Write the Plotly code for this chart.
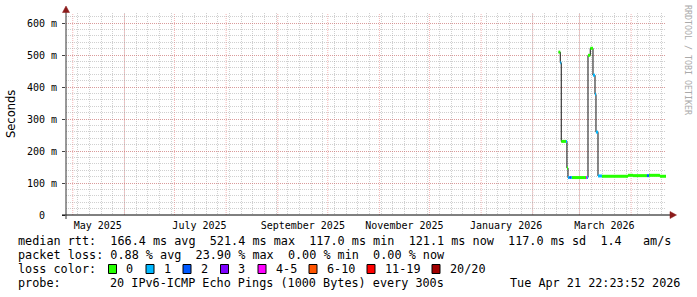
import pandas as pd
import plotly.graph_objects as go

# ---------------- data ----------------
times = ["2026-02-16 10:00", "2026-02-17 12:00", "2026-02-18 02:00", "2026-02-20 22:00",
         "2026-02-21 12:00", "2026-02-22 03:00", "2026-02-23 00:00", "2026-02-23 20:00",
         "2026-02-24 12:00", "2026-03-04 22:00", "2026-03-05 12:00", "2026-03-06 03:00",
         "2026-03-07 12:00", "2026-03-09 03:00", "2026-03-10 08:00", "2026-03-10 22:00",
         "2026-03-12 03:00", "2026-03-14 12:00", "2026-03-30 03:00", "2026-04-02 03:00",
         "2026-04-10 12:00", "2026-04-11 17:00", "2026-04-18 07:00"]
median_ms = [509, 476, 230, 230, 147, 117, 117, 117, 117, 117, 117, 499,
             521, 437, 377, 259, 122, 121, 124, 123, 123, 124, 121]
loss_cat = [0, 1, 0, 1, 0, 1, 2, 1, 0, 4, 1, 0, 0, 1, 1, 1, 1, 0, 0, 0, 2, 0, 0]
end_time = "2026-04-21 22:23"

loss_labels = ["0", "1", "2", "3", "4-5", "6-10", "11-19", "20/20"]
loss_colors = ["#26ff00", "#00b8ff", "#0059ff", "#7e00ff", "#ff00ff", "#ff5500", "#ff0000", "#a10000"]

y_tick_vals = [0, 0.1, 0.2, 0.3, 0.4, 0.5, 0.6]
y_tick_text = ["0\u00a0\u00a0", "100 m", "200 m", "300 m", "400 m", "500 m", "600 m"]
x_tick_vals = ["2025-05-16", "2025-07-16", "2025-09-16", "2025-11-16", "2026-01-16", "2026-03-16"]
x_tick_text = ["May 2025", "July 2025", "September 2025", "November 2025", "January 2026", "March 2026"]

stat_lines = [
    "median rtt:  166.4 ms avg  521.4 ms max  117.0 ms min  121.1 ms now  117.0 ms sd  1.4   am/s",
    "packet loss: 0.88 % avg  23.90 % max  0.00 % min  0.00 % now",
]
probe_text = "20 IPv6-ICMP Echo Pings (1000 Bytes) every 300s"
stamp_text = "Tue Apr 21 22:23:52 2026"

# ---------------- geometry helpers ----------------
W, H = 697, 297
L, R, T, B = 66, 31, 13, 82
PW, PH = W - L - R, H - T - B
def px(x):
    return (x - L) / PW
def py(y):
    return (H - B - y) / PH

MONO = "DejaVu Sans Mono"
nb = lambda s: s.replace(" ", "\u00a0")
MAJ = "rgba(230,90,90,0.45)"
MIN = "rgba(150,150,150,0.45)"

t_all = pd.to_datetime(times + [end_time])
vals = [v / 1000 for v in median_ms]

fig = go.Figure()

# black connecting step line
fig.add_trace(go.Scatter(
    x=t_all, y=vals + [vals[-1]], mode="lines", line=dict(color="#111111", width=1, shape="hv"),
    hoverinfo="skip", showlegend=False))

# colored median segments by loss
for ci, col in enumerate(loss_colors):
    xs, ys = [], []
    for i, c in enumerate(loss_cat):
        if c == ci:
            xs += [t_all[i], t_all[i + 1], None]
            ys += [vals[i], vals[i], None]
    if xs:
        fig.add_trace(go.Scatter(x=xs, y=ys, mode="lines", line=dict(color=col, width=3),
                                 hoverinfo="skip", showlegend=False))

x0 = pd.Timestamp(end_time) - pd.Timedelta(days=360)
x1 = pd.Timestamp(end_time)

fig.update_layout(
    width=W, height=H, autosize=False,
    margin=dict(l=L, r=R, t=T, b=B, pad=0),
    paper_bgcolor="white", plot_bgcolor="white",
    showlegend=False,
    xaxis=dict(
        range=[x0, x1], type="date", showgrid=False, zeroline=False, showline=False,
        tickmode="array", tickvals=x_tick_vals, ticktext=x_tick_text, ticks="",
        ticklabelstandoff=3,
        tickfont=dict(family=MONO, size=10, color="#000"),
        minor=dict(showgrid=True, dtick=7 * 86400000, tick0="2025-04-27",
                   gridcolor=MIN, griddash="1px,1px", gridwidth=1),
    ),
    yaxis=dict(
        range=[0, 0.63125], showgrid=True, zeroline=False, showline=False,
        tickmode="array", tickvals=y_tick_vals, ticktext=y_tick_text,
        gridcolor=MAJ, griddash="1px,1px", gridwidth=1,
        ticks="outside", ticklen=3, tickcolor="#444", ticklabelstandoff=3,
        tickfont=dict(family=MONO, size=10, color="#000"),
        minor=dict(showgrid=True, dtick=0.02, tick0=0,
                   gridcolor=MIN, griddash="1px,1px", gridwidth=1),
    ),
)

# monthly red grid lines
for m in pd.date_range("2025-05-01", "2026-04-01", freq="MS"):
    fig.add_shape(type="line", xref="x", yref="paper", x0=m, x1=m, y0=0, y1=1,
                  line=dict(color=MAJ, width=1, dash="1px,1px"), layer="below")

# axis lines and arrows
fig.add_shape(type="line", xref="paper", yref="paper", x0=px(62), x1=px(671), y0=0, y1=0,
              line=dict(color="#000", width=1), layer="above")
fig.add_shape(type="line", xref="paper", yref="paper", x0=0, x1=0, y0=py(219), y1=py(9),
              line=dict(color="#333", width=1), layer="above")
fig.add_shape(type="path", xref="paper", yref="paper",
              path=f"M {px(62.5)},{py(12.5)} L {px(66)},{py(6)} L {px(69.5)},{py(12.5)} Z",
              fillcolor="#8b1a1a", line=dict(color="#8b1a1a", width=0.5), layer="above")
fig.add_shape(type="path", xref="paper", yref="paper",
              path=f"M {px(670)},{py(211.5)} L {px(676.5)},{py(215)} L {px(670)},{py(218.5)} Z",
              fillcolor="#8b1a1a", line=dict(color="#8b1a1a", width=0.5), layer="above")

def text(x, y, s, size=11.8, anchor="left", color="#000", family=MONO, angle=0):
    fig.add_annotation(x=px(x), y=py(y), xref="paper", yref="paper", text=nb(s), showarrow=False,
                       xanchor=anchor, yanchor="middle", textangle=angle,
                       font=dict(family=family, size=size, color=color))

# y title
text(11, 114, "Seconds", size=11.5, anchor="center", family="DejaVu Sans", angle=-90)
# watermark
text(688, 60, "RRDTOOL / TOBI OETIKER", size=8.3, anchor="center", color="#aaaaaa", angle=90)

# legend / stats
text(16, 241, stat_lines[0])
text(16, 255, stat_lines[1])
text(16, 269, "loss color:")
box_x = [108.5, 146, 183, 220.5, 258, 309, 367, 432]
for bx, lab, col in zip(box_x, loss_labels, loss_colors):
    fig.add_shape(type="rect", xref="paper", yref="paper", x0=px(bx), x1=px(bx + 8),
                  y0=py(273.5), y1=py(264.5), fillcolor=col, line=dict(color="#000", width=1))
    text(bx + 15.5, 269, lab)
text(16, 283, "probe:")
text(108, 283, probe_text)
text(682, 283, stamp_text, anchor="right")

fig.write_html("out.html")
